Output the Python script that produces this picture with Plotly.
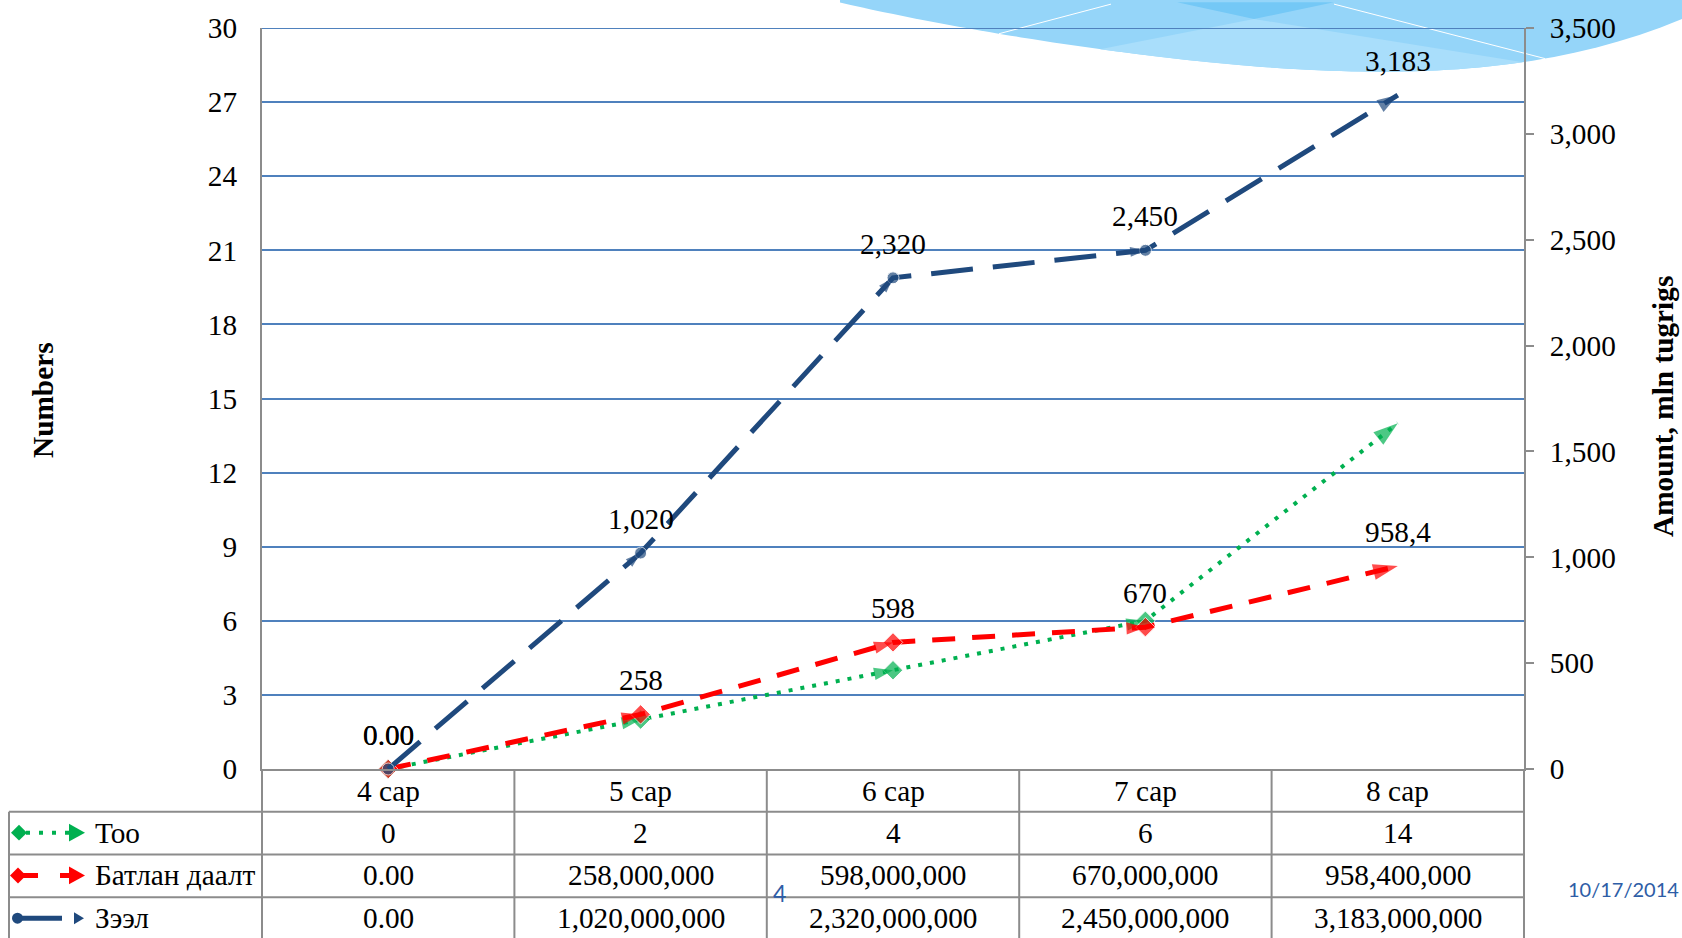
import numpy as np
import plotly.graph_objects as go

# ---------------- data ----------------
categories = ["4 сар", "5 сар", "6 сар", "7 сар", "8 сар"]
series_names = ["Тоо", "Батлан даалт", "Зээл"]
too_counts = [0, 2, 4, 6, 14]                 # left axis (Numbers)
batlan_mln = [0, 258, 598, 670, 958.4]        # right axis, mln tugrigs
zeel_mln = [0, 1020, 2320, 2450, 3183]        # right axis, mln tugrigs
left_ticks = [0, 3, 6, 9, 12, 15, 18, 21, 24, 27, 30]
right_ticks = [0, 500, 1000, 1500, 2000, 2500, 3000, 3500]

# ---------------- geometry helpers ----------------
W, H = 1682, 938
L, R, T, B = 262, 1524, 24, 769


def px(x):
    return (x - L) / (R - L)


def py(y):
    return (B - y) / (B - T)


SERIF = "Liberation Serif, Times New Roman, serif"
FS = 29.3
GREEN, RED, NAVY = "#00B050", "#FF0000", "#1F497D"
GRAY = "#8C8C8C"
GRID = "#4F81BD"

fig = go.Figure()

# ---- Тоо (green, dotted, left axis)
fig.add_trace(go.Scatter(
    x=categories, y=too_counts, name=series_names[0], yaxis="y",
    mode="lines+markers", cliponaxis=False, showlegend=False,
    line=dict(color=GREEN, width=4, dash="4px,8px"),
    marker=dict(symbol="diamond", size=[15, 15, 15, 15, 0], color=GREEN)))
fig.add_trace(go.Scatter(
    x=categories, y=too_counts, yaxis="y", mode="markers", cliponaxis=False,
    showlegend=False,
    marker=dict(symbol="arrow", angleref="previous", size=[0, 20, 20, 20, 26],
                color=GREEN, line=dict(width=0))))

# ---- Батлан даалт (red, dashed, right axis)
fig.add_trace(go.Scatter(
    x=categories, y=batlan_mln, name=series_names[1], yaxis="y2",
    mode="lines+markers", cliponaxis=False, showlegend=False,
    line=dict(color=RED, width=5, dash="23px,17px"),
    marker=dict(symbol="diamond", size=[15, 15, 15, 15, 0], color=RED)))
fig.add_trace(go.Scatter(
    x=categories, y=batlan_mln, yaxis="y2", mode="markers", cliponaxis=False,
    showlegend=False,
    marker=dict(symbol="arrow", angleref="previous", size=[0, 20, 20, 20, 26],
                color=RED, line=dict(width=0))))

# ---- Зээл (navy, long dash, right axis)
fig.add_trace(go.Scatter(
    x=categories, y=zeel_mln, name=series_names[2], yaxis="y2",
    mode="lines+markers", cliponaxis=False, showlegend=False,
    line=dict(color=NAVY, width=5, dash="42px,20px"),
    marker=dict(symbol="circle", size=[12, 12, 12, 12, 0], color=NAVY)))
fig.add_trace(go.Scatter(
    x=categories, y=zeel_mln, yaxis="y2", mode="markers", cliponaxis=False,
    showlegend=False,
    marker=dict(symbol="arrow", angleref="previous", size=[0, 16, 16, 16, 22],
                color=NAVY, line=dict(width=0))))


# ---------------- data labels ----------------
def lab(v):
    if v == 0:
        return "0.00"
    if float(v).is_integer():
        return f"{v:,.0f}"
    return f"{v}".replace(".", ",")


annotations = []
for series in (batlan_mln, zeel_mln):
    for c, v in zip(categories, series):
        annotations.append(dict(x=c, y=v, xref="x", yref="y2", text=lab(v),
                                showarrow=False, yshift=34,
                                xanchor="center", yanchor="middle",
                                font=dict(family=SERIF, size=FS, color="black")))


def note(xp, yp, text, size=FS, family=SERIF, color="black", xanchor="center",
         angle=0):
    annotations.append(dict(x=px(xp), y=py(yp), xref="paper", yref="paper",
                            text=text, showarrow=False, textangle=angle,
                            xanchor=xanchor, yanchor="middle",
                            font=dict(family=family, size=size, color=color)))


# ---------------- axis titles ----------------
note(43, 398, "<b>Numbers</b>", angle=-90)
note(1663, 405, "<b>Amount, mln tugrigs</b>", angle=-90)

shapes = []


def path(points, close=True):
    s = "M " + " L ".join(f"{px(x):.5f},{py(y):.5f}" for x, y in points)
    return s + (" Z" if close else "")


# ---------------- slide theme decoration (top right) ----------------
edge_pts = np.array([(847, 0), (999, 30), (1100, 45), (1369, 68), (1523, 59),
                     (1545, 54), (1682, 15)], dtype=float)
coef = np.polyfit(edge_pts[:, 0], edge_pts[:, 1], 4)


def arc_y(x):
    return float(np.polyval(coef, x))


xs = np.linspace(840, 1682, 80)
outline = [(x, arc_y(x)) for x in xs] + [(1682, -5), (840, -5)]
shapes.append(dict(type="path", xref="paper", yref="paper", layer="below",
                   path=path(outline), fillcolor="#95D5F9", line=dict(width=0)))
band = [(1100, arc_y(1100)), (1254, 15), (1523, arc_y(1523))]
band += [(x, arc_y(x)) for x in np.linspace(1523, 1100, 40)]
shapes.append(dict(type="path", xref="paper", yref="paper", layer="below",
                   path=path(band), fillcolor="#A9DEFB", line=dict(width=0)))
shapes.append(dict(type="path", xref="paper", yref="paper", layer="below",
                   path=path([(1177, -2), (1334, -2), (1254, 15)]),
                   fillcolor="#74C8F6", line=dict(width=0)))
shapes.append(dict(type="line", xref="paper", yref="paper", layer="below",
                   x0=px(999), y0=py(arc_y(999)), x1=px(1111), y1=py(0),
                   line=dict(color="white", width=1)))
shapes.append(dict(type="line", xref="paper", yref="paper", layer="below",
                   x0=px(1334), y0=py(0), x1=px(1545), y1=py(arc_y(1545)),
                   line=dict(color="white", width=1)))

# top gridline (value 30 on the left axis)
shapes.append(dict(type="line", xref="paper", yref="y", x0=0, x1=1,
                   y0=left_ticks[-1], y1=left_ticks[-1],
                   line=dict(color=GRID, width=2), layer="below"))

# ---------------- data table ----------------
row_y = [769, 812, 855, 898, 945]
col_x = [L + i * (R - L) / len(categories) for i in range(len(categories) + 1)]
line_style = dict(color=GRAY, width=2)
for x in col_x:
    shapes.append(dict(type="line", xref="paper", yref="paper", x0=px(x), x1=px(x),
                       y0=py(769), y1=py(945), line=line_style, layer="above"))
shapes.append(dict(type="line", xref="paper", yref="paper", x0=px(9), x1=px(9),
                   y0=py(812), y1=py(945), line=line_style, layer="above"))
for y in row_y[1:4]:
    shapes.append(dict(type="line", xref="paper", yref="paper", x0=px(9), x1=px(R),
                       y0=py(y), y1=py(y), line=line_style, layer="above"))

# category header
for i, c in enumerate(categories):
    note((col_x[i] + col_x[i + 1]) / 2, 791, c)


def tbl_fmt_count(v):
    return f"{v:,}"


def tbl_fmt_amount(v):
    if v == 0:
        return "0.00"
    return f"{round(v * 1e6):,}"


rows = [
    (series_names[0], [tbl_fmt_count(v) for v in too_counts]),
    (series_names[1], [tbl_fmt_amount(v) for v in batlan_mln]),
    (series_names[2], [tbl_fmt_amount(v) for v in zeel_mln]),
]
row_centers = [833, 876, 919]
for (name, vals), yc in zip(rows, row_centers):
    note(93, yc, name, xanchor="left")
    for i, t in enumerate(vals):
        note((col_x[i] + col_x[i + 1]) / 2, yc, t)

# legend keys inside the table
yk = row_centers[0]
shapes.append(dict(type="line", xref="paper", yref="paper", x0=px(26), x1=px(70),
                   y0=py(yk), y1=py(yk), line=dict(color=GREEN, width=4, dash="4px,9px")))
shapes.append(dict(type="path", xref="paper", yref="paper",
                   path=path([(11, yk), (19, yk - 8), (27, yk), (19, yk + 8)]),
                   fillcolor=GREEN, line=dict(width=0)))
shapes.append(dict(type="path", xref="paper", yref="paper",
                   path=path([(69, yk - 9), (85, yk), (69, yk + 9)]),
                   fillcolor=GREEN, line=dict(width=0)))
yk = row_centers[1]
shapes.append(dict(type="line", xref="paper", yref="paper", x0=px(20), x1=px(72),
                   y0=py(yk), y1=py(yk), line=dict(color=RED, width=5, dash="18px,22px")))
shapes.append(dict(type="path", xref="paper", yref="paper",
                   path=path([(10, yk), (18, yk - 8), (26, yk), (18, yk + 8)]),
                   fillcolor=RED, line=dict(width=0)))
shapes.append(dict(type="path", xref="paper", yref="paper",
                   path=path([(69, yk - 9), (85, yk), (69, yk + 9)]),
                   fillcolor=RED, line=dict(width=0)))
yk = row_centers[2]
shapes.append(dict(type="line", xref="paper", yref="paper", x0=px(18), x1=px(62),
                   y0=py(yk), y1=py(yk), line=dict(color=NAVY, width=5)))
shapes.append(dict(type="circle", xref="paper", yref="paper", x0=px(12), x1=px(23),
                   y0=py(yk - 5.5), y1=py(yk + 5.5), fillcolor=NAVY, line=dict(width=0)))
shapes.append(dict(type="path", xref="paper", yref="paper",
                   path=path([(74, yk - 6), (84, yk), (74, yk + 6)]),
                   fillcolor=NAVY, line=dict(width=0)))

# slide number / date
note(779, 894, "4", size=23, family="Lato, sans-serif", color="#2E5DA6")
note(1623, 890, "10/17/2014", size=20, family="Lato, sans-serif", color="#2E5DA6")

fig.update_layout(
    width=W, height=H,
    margin=dict(l=L, r=W - R, t=T, b=H - B, pad=0),
    paper_bgcolor="white", plot_bgcolor="rgba(0,0,0,0)",
    showlegend=False,
    xaxis=dict(type="category", range=[-0.5, len(categories) - 0.5],
               showticklabels=False, showgrid=False, zeroline=False,
               showline=True, linecolor=GRAY, linewidth=2, ticks=""),
    yaxis=dict(range=[0, 30], tickvals=left_ticks, showgrid=True,
               gridcolor=GRID, gridwidth=1.5, zeroline=False,
               showline=True, linecolor=GRAY, linewidth=2, ticks="",
               ticklabelstandoff=17,
               tickfont=dict(family=SERIF, size=FS, color="black")),
    yaxis2=dict(range=[0, 3500], tickvals=right_ticks, overlaying="y", side="right",
                showgrid=False, zeroline=False, showline=True, linecolor=GRAY,
                linewidth=2, ticks="outside", ticklen=8, tickcolor=GRAY, tickwidth=1.5,
                ticklabelstandoff=10, tickformat=",d",
                tickfont=dict(family=SERIF, size=FS, color="black")),
    annotations=annotations,
    shapes=shapes,
)

fig.write_html("out.html")
